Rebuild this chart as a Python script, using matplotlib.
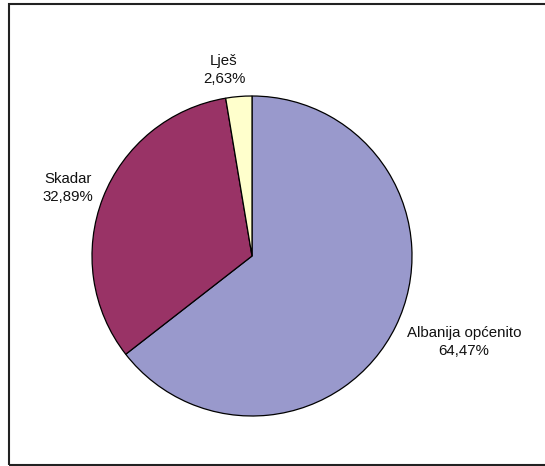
import matplotlib.pyplot as plt
from matplotlib.patches import Rectangle

labels = ['Albanija općenito', 'Skadar', 'Lješ']
values = [64.47, 32.89, 2.63]
colors = ['#9999CC', '#993366', '#FFFFCC']

fig = plt.figure(figsize=(5.45, 4.66), dpi=100)
ax = fig.add_axes([0, 0, 1, 1])

# pie, clockwise from the top like the original
ax.pie(values, colors=colors, startangle=90, counterclock=False,
       center=(252, 210), radius=160, frame=True,
       wedgeprops={'edgecolor': 'black', 'linewidth': 0.9})
ax.axis('off')
ax.set_xlim(0, 545)
ax.set_ylim(0, 466)

txt = [labels[i] + '\n' + ('%.2f' % values[i]).replace('.', ',') + '%' for i in range(3)]
font = dict(fontsize=10.8, family='Liberation Sans', ha='center', va='center',
            linespacing=1.35, color='#111111')
ax.text(464, 124, txt[0], **font)
ax.text(68, 278, txt[1], **font)
ax.text(224, 396, txt[2], **font)

# chart border
fig.patches.append(Rectangle((8.5, 1.5), 600, 461, transform=None, fill=False,
                             edgecolor='#222222', linewidth=1.5))

fig.savefig('out.png', dpi=100)
